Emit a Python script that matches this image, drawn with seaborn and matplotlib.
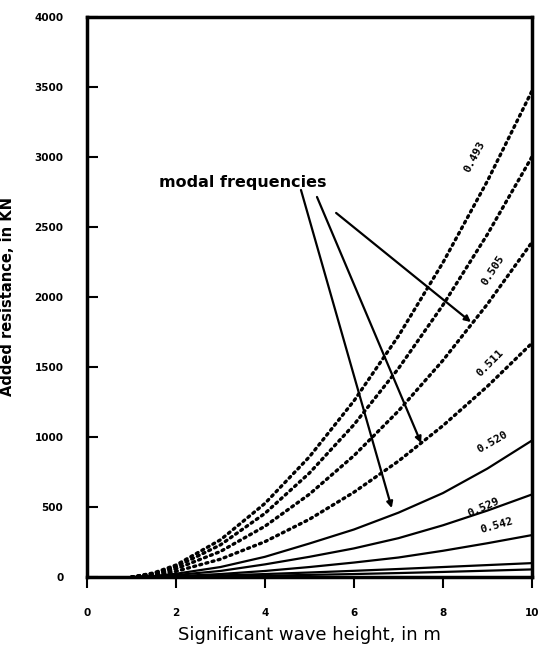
import matplotlib
matplotlib.use("Agg")
import matplotlib.pyplot as plt
import seaborn as sns
import pandas as pd

# ---- data ----
wave_height = [1, 1.5, 2, 3, 4, 5, 6, 7, 8, 9, 10]
curve_a = [0, 30, 86, 266, 526, 859, 1258, 1721, 2245, 2828, 3470]   # 0.493, dotted
curve_b = [0, 26, 74, 230, 455, 743, 1088, 1489, 1942, 2447, 3000]   # dotted
curve_c = [0, 20, 59, 183, 363, 592, 867, 1186, 1547, 1949, 2390]    # 0.505, dotted
curve_d = [0, 14, 41, 128, 253, 413, 606, 828, 1081, 1362, 1670]     # 0.511, dotted
curve_e = [0, 8, 24, 72, 145, 240, 340, 460, 600, 775, 975]          # 0.520
curve_f = [0, 5, 15, 44, 91, 145, 205, 278, 370, 475, 590]           # 0.529
curve_g = [0, 2, 7, 22, 44, 72, 104, 140, 188, 242, 300]             # 0.542
curve_h = [0, 1, 3, 12, 22, 33, 45, 58, 72, 86, 100]
curve_i = [0, 0, 1, 5, 10, 16, 22, 29, 37, 46, 55]

curve_names = ["A", "B", "C", "D", "E", "F", "G", "H", "I"]
curve_values = [curve_a, curve_b, curve_c, curve_d, curve_e, curve_f, curve_g, curve_h, curve_i]
curve_dotted = [True, True, True, True, False, False, False, False, False]

freq_labels = ["0.493", "0.505", "0.511", "0.520", "0.529", "0.542"]
freq_label_x = [8.72, 9.12, 9.06, 9.12, 8.92, 9.21]
freq_label_y = [3000, 2193, 1529, 964, 500, 371]
freq_label_rot = [62, 57, 45, 30, 24, 16]

x_ticks = [0, 2, 4, 6, 8, 10]
y_ticks = [0, 500, 1000, 1500, 2000, 2500, 3000, 3500, 4000]

# arrows of "modal frequencies": (tail x, tail y, head x, head y)
arrow_tails_x = [4.81, 5.17, 5.60]
arrow_tails_y = [2764, 2714, 2600]
arrow_heads_x = [6.85, 7.51, 8.63]
arrow_heads_y = [493, 957, 1821]

rows = []
for name, vals in zip(curve_names, curve_values):
    for xv, yv in zip(wave_height, vals):
        rows.append({"curve": name, "Hs": xv, "R": yv})
df = pd.DataFrame(rows)

sns.set_theme(style="white")
plt.rcParams["font.family"] = ["DejaVu Sans"]
for k in ["text.color", "axes.labelcolor", "xtick.color", "ytick.color"]:
    plt.rcParams[k] = "black"

fig = plt.figure(figsize=(5.4, 6.47), dpi=100)
ax = fig.add_axes([0.161, 0.108, 0.824, 0.866])

for name, dotted in zip(curve_names, curve_dotted):
    sub = df[df["curve"] == name]
    if dotted:
        sns.lineplot(data=sub, x="Hs", y="R", ax=ax, color="black",
                     linewidth=2.4, legend=False)
        l = ax.lines[-1]
        l.set_linestyle((0, (0.6, 1.3)))
        l.set_dash_capstyle("round")
    else:
        sns.lineplot(data=sub, x="Hs", y="R", ax=ax, color="black",
                     linewidth=1.6, legend=False)

ax.set_xlim(0, 10)
ax.set_ylim(0, 4000)
ax.set_xticks(x_ticks)
ax.set_yticks(y_ticks)
ax.set_xticklabels([str(t) for t in x_ticks], fontsize=7.5, fontweight="bold")
ax.set_yticklabels([str(t) for t in y_ticks], fontsize=7.5, fontweight="bold")
ax.tick_params(axis="y", direction="in", length=8, width=1.5, pad=17, left=True)
ax.tick_params(axis="x", direction="out", length=8, width=1.5, pad=14, bottom=True)

for s in ax.spines.values():
    s.set_visible(True)
    s.set_color("black")
    s.set_linewidth(2.5)

ax.set_xlabel("Significant wave height, in m", fontsize=13, labelpad=6)
ax.set_ylabel("Added resistance, in KN", fontsize=10.5, fontweight="bold", labelpad=14)

for t, xv, yv, r in zip(freq_labels, freq_label_x, freq_label_y, freq_label_rot):
    ax.text(xv, yv, t, rotation=r, ha="center", va="center", fontsize=8,
            fontweight="bold", family="DejaVu Sans Mono", rotation_mode="anchor")

ax.text(1.62, 2814, "modal frequencies", fontsize=11.5, fontweight="semibold",
        ha="left", va="center")
for tx, ty, hx, hy in zip(arrow_tails_x, arrow_tails_y, arrow_heads_x, arrow_heads_y):
    ax.annotate("", xy=(hx, hy), xytext=(tx, ty),
                arrowprops=dict(arrowstyle="-|>", color="black", lw=1.6,
                                mutation_scale=9, shrinkA=0, shrinkB=0))

ax.set_facecolor("white")
fig.patch.set_facecolor("white")
fig.savefig("out.png", dpi=100)
